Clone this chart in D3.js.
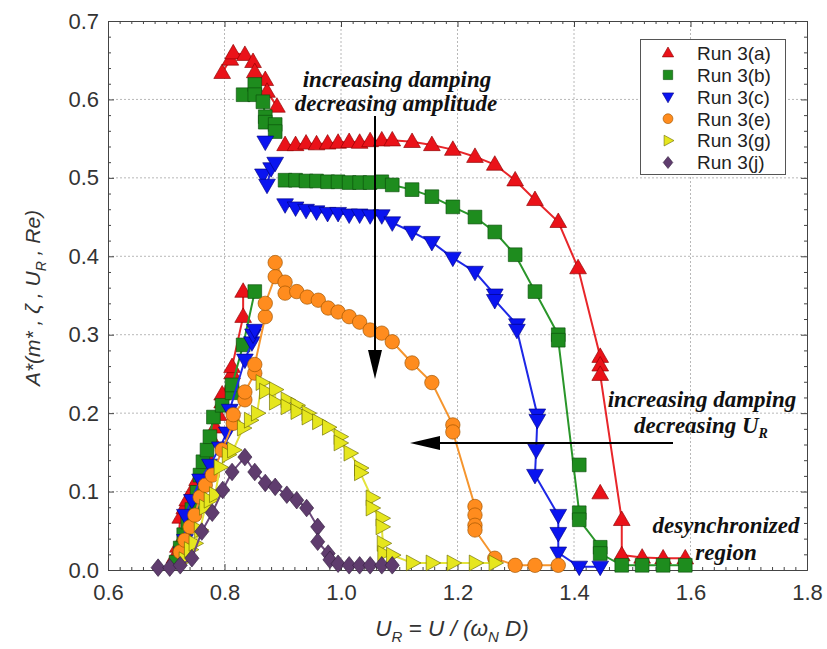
<!DOCTYPE html>
<html><head><meta charset="utf-8">
<script src="https://cdn.jsdelivr.net/npm/d3@7"></script>
<style>body{margin:0;background:#fff}svg{display:block}</style>
</head><body>
<svg id="c" width="827" height="649"></svg>
<script>
// ---- data (null in y = line break) ----
const runA_x = [0.714,0.720,0.724,0.731,0.736,0.745,0.753,0.762,0.771,0.779,0.784,0.790,0.796,0.796,0.813,0.813,0.832,0.832, null,
  0.796,0.810,0.815,0.835,0.849,0.852,0.870,0.873,0.890, null,
  0.904,0.922,0.940,0.958,0.977,0.995,1.014,1.032,1.050,1.070,1.088,1.122,1.156,1.192,1.230,1.264,1.299,1.333,1.373,1.407,1.445,1.445,1.445,1.482,1.482,1.517,1.553,1.591];
const runA_y = [0.016,0.030,0.067,0.079,0.089,0.102,0.115,0.130,0.144,0.166,0.182,0.198,0.214,0.224,0.251,0.259,0.323,0.355, null,
  0.634,0.651,0.659,0.657,0.648,0.635,0.625,0.610,0.591, null,
  0.542,0.542,0.544,0.543,0.544,0.545,0.546,0.545,0.547,0.548,0.548,0.546,0.542,0.536,0.527,0.517,0.497,0.472,0.444,0.385,0.272,0.261,0.249,0.064,0.019,0.016,0.015,0.015];
const runA_extraX = [1.445];
const runA_extraY = [0.098];

const runB_x = [0.717,0.724,0.730,0.737,0.744,0.753,0.758,0.763,0.770,0.775,0.781,0.796,0.813,0.813,0.832,0.852, null,
  0.832,0.852,0.852,0.866,0.870,0.870,0.887,0.887, null,
  0.904,0.922,0.940,0.958,0.977,0.995,1.014,1.032,1.050,1.070,1.088,1.122,1.156,1.192,1.230,1.264,1.299,1.333,1.373,1.373,1.409,1.409,1.445,1.445,1.482,1.517,1.553,1.591];
const runB_y = [0.010,0.028,0.045,0.061,0.077,0.099,0.121,0.138,0.153,0.170,0.195,0.210,0.226,0.236,0.287,0.355, null,
  0.606,0.619,0.606,0.597,0.578,0.571,0.568,0.559, null,
  0.497,0.497,0.496,0.496,0.495,0.495,0.494,0.494,0.494,0.495,0.491,0.485,0.476,0.463,0.450,0.431,0.402,0.355,0.300,0.293,0.073,0.064,0.029,0.021,0.006,0.006,0.006,0.006];
const runB_extraX = [1.409];
const runB_extraY = [0.134];

const runC_x = [0.727,0.732,0.732,0.744,0.758,0.775,0.792,0.804,0.809,0.835,0.847,0.849,0.852, null,
  0.866,0.873,0.880,0.887, null,
  0.904,0.922,0.940,0.958,0.977,0.995,1.014,1.032,1.050,1.070,1.088,1.122,1.156,1.192,1.230,1.264,1.264,1.302,1.302,1.337,1.337,1.335,1.333,1.373,1.373,1.373,1.409,1.445];
const runC_y = [0.022,0.038,0.070,0.089,0.115,0.134,0.156,0.175,0.204,0.268,0.290,0.300,0.306, null,
  0.504,0.491,0.512,0.519, null,
  0.466,0.462,0.459,0.457,0.455,0.455,0.453,0.453,0.452,0.452,0.443,0.431,0.418,0.398,0.380,0.351,0.344,0.313,0.306,0.198,0.191,0.153,0.121,0.070,0.047,0.022,0.004,0.004];
const runC_extraX = [0.870];
const runC_extraY = [0.546];

const runE_x = [0.724,0.732,0.741,0.749,0.758,0.767,0.779,0.796,0.815,0.815,0.835,0.835,0.852,0.852,0.870,0.870,0.887,0.887,0.904,0.904,0.924,0.942,0.961,0.978,0.995,1.014,1.032,1.050,1.070,1.088,1.122,1.156,1.192,1.192,1.230,1.230,1.230,1.230,1.264,1.299,1.333,1.373];
const runE_y = [0.023,0.038,0.055,0.070,0.093,0.108,0.121,0.153,0.187,0.198,0.217,0.227,0.251,0.262,0.323,0.340,0.374,0.392,0.367,0.353,0.355,0.348,0.344,0.334,0.329,0.323,0.316,0.306,0.302,0.291,0.264,0.239,0.185,0.176,0.081,0.070,0.057,0.051,0.015,0.006,0.006,0.006];
const runE_extraX = [];
const runE_extraY = [];

const runG_x = [0.732,0.741,0.749,0.758,0.767,0.775,0.784,0.792,0.806,0.815,0.832,0.844,0.856,0.864,0.870,0.887,0.887,0.907,0.907,0.924,0.924,0.943,0.943,0.961,0.978,0.998,0.998,1.015,1.033,1.033,1.053,1.053,1.070,1.070,1.072,1.073,1.088,1.122,1.156,1.192,1.230,1.264];
const runG_y = [0.013,0.026,0.034,0.051,0.080,0.089,0.096,0.131,0.147,0.153,0.181,0.191,0.200,0.239,0.228,0.230,0.214,0.217,0.208,0.210,0.202,0.200,0.195,0.189,0.182,0.170,0.162,0.149,0.130,0.124,0.092,0.079,0.066,0.055,0.034,0.021,0.019,0.009,0.009,0.009,0.009,0.009];
const runG_extraX = [];
const runG_extraY = [];

const runJ_x = [0.686,0.706,0.724,0.744,0.761,0.779,0.797,0.813,0.835,0.852,0.870,0.887,0.907,0.924,0.941,0.960,0.960,0.978,0.981,0.995,1.014,1.032,1.050,1.070,1.088];
const runJ_y = [0.003,0.003,0.006,0.015,0.049,0.073,0.102,0.125,0.144,0.125,0.111,0.106,0.096,0.089,0.079,0.055,0.036,0.021,0.013,0.008,0.006,0.006,0.006,0.006,0.006];
const runJ_extraX = [];
const runJ_extraY = [];

const seriesNames = ["Run 3(a)","Run 3(b)","Run 3(c)","Run 3(e)","Run 3(g)","Run 3(j)"];
const xTicks = [0.6,0.8,1.0,1.2,1.4,1.6,1.8];
const yTicks = [0.0,0.1,0.2,0.3,0.4,0.5,0.6,0.7];

// ---- styles ----
const styles = [
  {shape:"up",    fill:"#ea1219", line:"#e8262a", stroke:"#8a0000"},
  {shape:"square",fill:"#1e8c1e", line:"#2a962a", stroke:"#0b4f0b"},
  {shape:"down",  fill:"#0a14f0", line:"#1e28e6", stroke:"#000080"},
  {shape:"circle",fill:"#ff8c1e", line:"#f5952e", stroke:"#9a5200"},
  {shape:"right", fill:"#e6e61e", line:"#e3e33c", stroke:"#6a6a00"},
  {shape:"diamond",fill:"#5f3c6e", line:"#6c4a7c", stroke:"#33203d"}
];
const seriesData = [
  [runA_x, runA_y, runA_extraX, runA_extraY],
  [runB_x, runB_y, runB_extraX, runB_extraY],
  [runC_x, runC_y, runC_extraX, runC_extraY],
  [runE_x, runE_y, runE_extraX, runE_extraY],
  [runG_x, runG_y, runG_extraX, runG_extraY],
  [runJ_x, runJ_y, runJ_extraX, runJ_extraY]
];

function shapePath(t, s) {
  switch (t) {
    case "up": return `M0,${-s}L${s*0.95},${s*0.65}L${-s*0.95},${s*0.65}Z`;
    case "down": return `M0,${s}L${s*0.95},${-s*0.65}L${-s*0.95},${-s*0.65}Z`;
    case "square": { const h=s*0.78; return `M${-h},${-h}H${h}V${h}H${-h}Z`; }
    case "circle": { const r=s*0.82; return `M${r},0A${r},${r} 0 1,1 ${-r},0A${r},${r} 0 1,1 ${r},0Z`; }
    case "right": return `M${s},0L${-s*0.65},${-s*0.9}L${-s*0.65},${s*0.9}Z`;
    case "diamond": return `M0,${-s}L${s*0.8},0L0,${s}L${-s*0.8},0Z`;
  }
}

const svg = d3.select("#c");
const L = 108, R = 807, T = 21, B = 570;
const x = d3.scaleLinear().domain([0.6,1.8]).range([L,R]);
const y = d3.scaleLinear().domain([0,0.7]).range([B,T]);

// gridlines
const grid = svg.append("g");
grid.selectAll("line.gx").data(xTicks.slice(1,-1)).enter().append("line")
  .attr("x1",d=>x(d)).attr("x2",d=>x(d)).attr("y1",T).attr("y2",B)
  .attr("stroke","#b8b8b8").attr("stroke-width",1).attr("stroke-dasharray","2,2");
grid.selectAll("line.gy").data(yTicks.slice(1,-1)).enter().append("line")
  .attr("y1",d=>y(d)).attr("y2",d=>y(d)).attr("x1",L).attr("x2",R)
  .attr("stroke","#b8b8b8").attr("stroke-width",1).attr("stroke-dasharray","2,2");

// axes
const fmt = d3.format(".1f");
const xMinor = d3.range(0.62,1.8,0.02).filter(v=>Math.abs((v*10)%2)>0.05 && Math.abs((v*10)%2-2)>0.05);
const yMinor = d3.range(0.02,0.7,0.02).filter(v=>Math.abs((v*100)%10)>0.5 && Math.abs((v*100)%10-10)>0.5);

function styleAxis(g){ g.select(".domain").attr("stroke","#444"); g.selectAll(".tick line").attr("stroke","#444"); }
const axB = svg.append("g").attr("transform",`translate(0,${B})`)
  .call(d3.axisBottom(x).tickValues(xTicks).tickFormat(fmt).tickSize(-6).tickPadding(14).tickSizeOuter(0));
axB.call(styleAxis);
axB.selectAll("text").attr("font-family","Liberation Sans, Arial, sans-serif").attr("font-size",22).attr("fill","#333");
svg.append("g").attr("transform",`translate(0,${B})`).call(d3.axisBottom(x).tickValues(xMinor).tickFormat("").tickSize(-3).tickSizeOuter(0)).call(styleAxis);
const axL = svg.append("g").attr("transform",`translate(${L},0)`)
  .call(d3.axisLeft(y).tickValues(yTicks).tickFormat(fmt).tickSize(-6).tickPadding(9).tickSizeOuter(0));
axL.call(styleAxis);
axL.selectAll("text").attr("font-family","Liberation Sans, Arial, sans-serif").attr("font-size",22).attr("fill","#333");
svg.append("g").attr("transform",`translate(${L},0)`).call(d3.axisLeft(y).tickValues(yMinor).tickFormat("").tickSize(-3).tickSizeOuter(0)).call(styleAxis);
svg.append("g").attr("transform",`translate(0,${T})`).call(d3.axisTop(x).tickValues(xTicks).tickFormat("").tickSize(-6).tickSizeOuter(0)).call(styleAxis);
svg.append("g").attr("transform",`translate(0,${T})`).call(d3.axisTop(x).tickValues(xMinor).tickFormat("").tickSize(-3).tickSizeOuter(0)).call(styleAxis);
svg.append("g").attr("transform",`translate(${R},0)`).call(d3.axisRight(y).tickValues(yTicks).tickFormat("").tickSize(-6).tickSizeOuter(0)).call(styleAxis);
svg.append("g").attr("transform",`translate(${R},0)`).call(d3.axisRight(y).tickValues(yMinor).tickFormat("").tickSize(-3).tickSizeOuter(0)).call(styleAxis);

// series
const line = d3.line().defined(d=>d[1]!==null).x(d=>x(d[0])).y(d=>y(d[1]));
seriesData.forEach((sd,i)=>{
  const st = styles[i];
  const pts = sd[0].map((v,k)=>[v, sd[1][k]]);
  const g = svg.append("g");
  g.append("path").attr("d", line(pts)).attr("fill","none").attr("stroke",st.line).attr("stroke-width",2);
  const all = pts.filter(p=>p[1]!==null).concat(sd[2].map((v,k)=>[v, sd[3][k]]));
  g.selectAll("path.m").data(all).enter().append("path")
    .attr("transform",d=>`translate(${x(d[0])},${y(d[1])})`)
    .attr("d", shapePath(st.shape, 8.8))
    .attr("fill",st.fill).attr("stroke",st.stroke).attr("stroke-width",0.8).attr("stroke-opacity",0.8);
});

// legend
const lg = svg.append("g");
lg.append("rect").attr("x",640.5).attr("y",39.5).attr("width",145).attr("height",135)
  .attr("fill","#fff").attr("stroke","#555").attr("stroke-width",1);
seriesNames.forEach((n,i)=>{
  const yy = 53 + i*21.9;
  lg.append("path").attr("transform",`translate(668,${yy})`).attr("d",shapePath(styles[i].shape,6))
    .attr("fill",styles[i].fill).attr("stroke",styles[i].stroke).attr("stroke-width",0.6);
  lg.append("text").attr("x",697).attr("y",yy).attr("dy","0.36em").text(n)
    .attr("font-family","Liberation Sans, Arial, sans-serif").attr("font-size",19).attr("fill","#222");
});

// annotations
const ann = svg.append("g").attr("font-family","Liberation Serif, Times New Roman, serif")
  .attr("font-weight","bold").attr("font-style","italic").attr("font-size",23).attr("fill","#111");
ann.append("text").attr("x",397).attr("y",87).attr("text-anchor","middle").text("increasing damping");
ann.append("text").attr("x",396).attr("y",111).attr("text-anchor","middle").text("decreasing amplitude");
ann.append("text").attr("x",702).attr("y",407).attr("text-anchor","middle").text("increasing damping");
const t2 = ann.append("text").attr("x",701).attr("y",433).attr("text-anchor","middle");
t2.append("tspan").text("decreasing U");
t2.append("tspan").attr("font-size",14).attr("dy",5).text("R");
ann.append("text").attr("x",726).attr("y",533).attr("text-anchor","middle").text("desynchronized");
ann.append("text").attr("x",726).attr("y",560).attr("text-anchor","middle").text("region");

// arrows
const ar = svg.append("g");
ar.append("line").attr("x1",375).attr("x2",375).attr("y1",116).attr("y2",352).attr("stroke","#000").attr("stroke-width",2);
ar.append("path").attr("d","M368,350L382,350L375,379Z").attr("fill","#000");
ar.append("line").attr("x1",673).attr("x2",437).attr("y1",443).attr("y2",443).attr("stroke","#000").attr("stroke-width",2);
ar.append("path").attr("d","M440,436L440,450L410,443Z").attr("fill","#000");

// axis titles
const xt = svg.append("text").attr("x",452).attr("y",636).attr("text-anchor","middle")
  .attr("font-family","Liberation Sans, Arial, sans-serif").attr("font-style","italic").attr("font-size",22.5).attr("fill","#333");
xt.append("tspan").text("U");
xt.append("tspan").attr("font-size",15).attr("dy",6).text("R");
xt.append("tspan").attr("dy",-6).text(" = U / (ω");
xt.append("tspan").attr("font-size",15).attr("dy",6).text("N");
xt.append("tspan").attr("dy",-6).text(" D)");

const yt = svg.append("text").attr("transform","translate(40,298) rotate(-90)").attr("text-anchor","middle")
  .attr("font-family","Liberation Sans, Arial, sans-serif").attr("font-style","italic").attr("font-size",21).attr("fill","#333");
yt.append("tspan").text("A*(m* , ζ , U");
yt.append("tspan").attr("font-size",14).attr("dy",6).text("R");
yt.append("tspan").attr("dy",-6).text(" , Re)");
</script>
</body></html>
